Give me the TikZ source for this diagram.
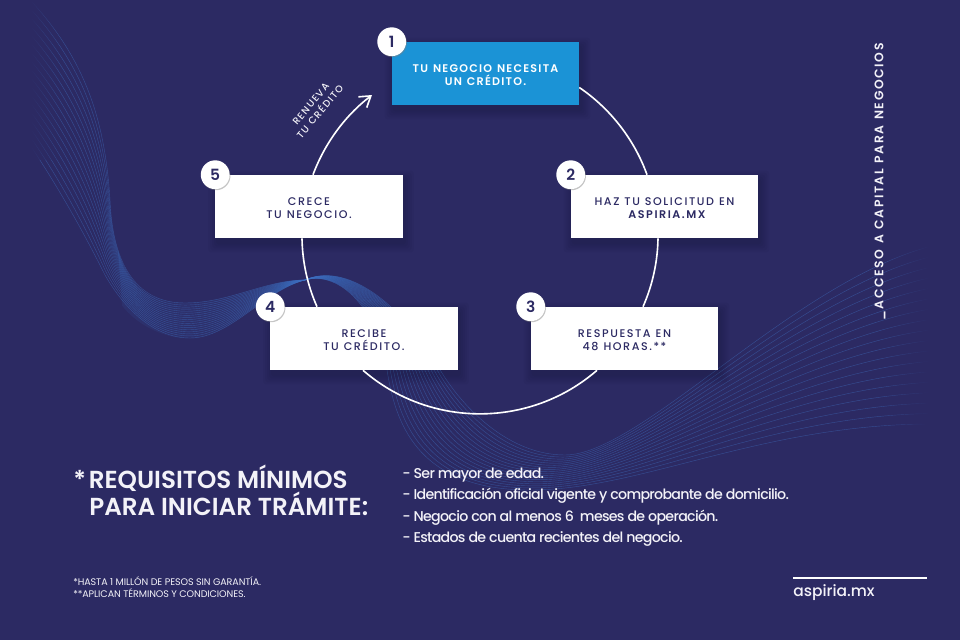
\documentclass[tikz,border=0pt]{standalone}
\usepackage{fontspec}
\setmainfont{Poppins}
\newfontfamily\medfont{Poppins Medium}
\newfontfamily\semifont{Poppins SemiBold}
\usetikzlibrary{arrows.meta,backgrounds,calc,fadings,shadows}
\definecolor{navy}{HTML}{2C2A63}
\definecolor{sky}{HTML}{1B93D6}
\definecolor{wave}{HTML}{3F72C4}
\definecolor{paper}{HTML}{F3F2F8}
\newcommand{\capsfont}[1]{\addfontfeatures{LetterSpace=#1}\spaceskip=0.45em\relax}
\newcommand{\twolines}[2]{\raisebox{-1.4pt}[\height][\depth]{#1}\\\raisebox{-1.4pt}[\height][\depth]{#2}}
\tikzset{
  stepbox/.style={rectangle,minimum width=4.675cm,minimum height=1.575cm,inner sep=0pt,align=center},
  whitebox/.style={stepbox,fill=white,text=navy,font=\fontsize{7.9}{9.25}\selectfont\medfont\capsfont{14}},
  bluebox/.style={stepbox,fill=sky,text=white,font=\fontsize{7.9}{9.25}\selectfont\semifont\capsfont{11}},
  badge/.style={circle,fill=white,text=navy,minimum size=0.72cm,inner sep=0pt,
    font=\fontsize{11}{11}\selectfont\semifont,
    drop shadow={shadow xshift=0.6pt,shadow yshift=-0.8pt,opacity=0.45}},
  ring/.style={white,line width=1.15pt},
  wavefan/.style={wave,line width=0.3pt,opacity=0.5},
  wavefill/.style={wave,line width=0.4pt,opacity=0.11},
  plain/.style={text=paper,inner sep=0pt,align=left},
}
\begin{document}
\begin{tikzpicture}[x=0.025cm,y=-0.025cm]
% boxes
\node[bluebox] (box1) at (485.5,73.5) {\twolines{TU NEGOCIO NECESITA}{UN CRÉDITO.}};
\node[whitebox] (box2) at (664.5,206.5) {\twolines{HAZ TU SOLICITUD EN}{\semifont\capsfont{14} ASPIRIA.MX}};
\node[whitebox] (box3) at (624.5,338.5) {\twolines{RESPUESTA EN}{48 HORAS.**}};
\node[whitebox] (box4) at (364,338.5) {\twolines{RECIBE}{TU CRÉDITO.}};
\node[whitebox] (box5) at (309,206.5) {\twolines{CRECE}{TU NEGOCIO.}};
\coordinate (renew) at (372,95);
%
\begin{scope}[on background layer]
\fill[navy] (0,0) rectangle (960,640);
% wave, upper and lower edge of the fan
\foreach \i in {0,...,17} {
  \pgfmathsetmacro{\t}{\i/17}
  \draw[wavefan] ($(32,2)!\t!(32,148)$)
    .. controls ($(85,60)!\t!(60,190)$) and ($(105,120)!\t!(85,235)$) .. ($(110,200)!\t!(105,275)$)
    .. controls ($(113,270)!\t!(125,310)$) and ($(140,303)!\t!(155,338)$) .. ($(185,303)!\t!(190,338)$)
    .. controls ($(230,303)!\t!(230,338)$) and ($(265,280)!\t!(265,290)$) .. (305,280)
    .. controls ($(340,270)!\t!(345,262)$) and ($(378,310)!\t!(400,300)$) .. ($(387,370)!\t!(442,373)$)
    .. controls ($(395,420)!\t!(465,410)$) and ($(415,490)!\t!(510,455)$) .. ($(530,490)!\t!(565,455)$)
    .. controls ($(640,490)!\t!(640,455)$) and ($(760,425)!\t!(790,285)$) .. ($(928,424)!\t!(928,247)$);
}
% the dense part of the wave
\foreach \i in {0,...,44} {
  \pgfmathsetmacro{\t}{\i/44}
  \draw[wavefill] ($(118,250)!\t!(122,305)$)
    .. controls ($(125,285)!\t!(135,322)$) and ($(150,303)!\t!(160,338)$) .. ($(185,303)!\t!(190,338)$)
    .. controls ($(230,303)!\t!(230,338)$) and ($(265,280)!\t!(265,290)$) .. (305,280)
    .. controls ($(340,270)!\t!(345,262)$) and ($(378,310)!\t!(400,300)$) .. ($(387,370)!\t!(442,373)$);
}
\fill[navy,path fading=east] (30,0) rectangle (60,160);
\fill[navy,path fading=west] (880,240) rectangle (930,430);
% soft shadows
\foreach \b in {box1,box2,box3,box4,box5}
  \foreach \s in {9,7,5,3,1}
    \fill[black,opacity=0.028,rounded corners=2pt] ($(\b.north west)+(2-\s,5-\s)$) rectangle ($(\b.south east)+(2+\s,5+\s)$);
% ring
\draw[ring] ($(box1.east)+(0,14)$) to[bend left=18,looseness=0.87] ($(box2.north)+(-17.5,0)$);
\draw[ring] ($(box2.south)+(-6.5,0)$) to[bend left=11.5,looseness=0.86] ($(box3.north)+(18.5,0)$);
\draw[ring] ($(box3.south)+(-27.5,0)$) to[bend left=41,looseness=0.97] ($(box4.south)+(-1,0)$);
\draw[ring] ($(box4.north)+(-47,0)$) to[bend left=11.5,looseness=0.86] ($(box5.south)+(-7,0)$);
\draw[ring,-{Straight Barb[length=2.6mm,width=3.4mm]}] ($(box5.north)+(4,0)$) to[bend left=16,looseness=0.87] (renew);
\end{scope}
% badges
\node[badge] (num1) at (box1.north west) {1};
\node[badge] (num2) at (box2.north west) {2};
\node[badge] (num3) at (box3.north west) {3};
\node[badge] (num4) at (box4.north west) {4};
\node[badge] (num5) at (box5.north west) {5};
%
\node[plain,align=center,rotate=50,font=\fontsize{6.9}{8.6}\selectfont\medfont\capsfont{13}] (renewlabel) at (315.5,108) {RENUEVA\\TU CRÉDITO};
\node[plain,rotate=90,font=\fontsize{8.8}{9}\selectfont\semifont\capsfont{13}] (tagline) at (880,182) {\_ACCESO A CAPITAL PARA NEGOCIOS};
%
\node[plain,anchor=west,font=\fontsize{17.5}{19.2}\selectfont\semifont] (title) at (73,490.5) {*\kern2pt REQUISITOS MÍNIMOS\\\hspace*{11.4pt}PARA INICIAR TRÁMITE:};
\node[plain,anchor=west,font=\fontsize{10.1}{15.2}\selectfont\medfont\addfontfeatures{LetterSpace=-5}] (reqs) at (402,507)
  {- Ser mayor de edad.\\- Identificación oficial vigente y comprobante de domicilio.\\- Negocio con al menos 6\ \ meses de operación.\\- Estados de cuenta recientes del negocio.};
\node[plain,anchor=west,font=\fontsize{6.8}{8.5}\selectfont\addfontfeatures{LetterSpace=-1}] (notes) at (73,587) {*HASTA 1 MILLÓN DE PESOS SIN GARANTÍA.\\**APLICAN TÉRMINOS Y CONDICIONES.};
\node[plain,anchor=base west,font=\fontsize{11}{12}\selectfont\medfont] (site) at (793,596) {aspiria.mx};
\coordinate (ruleleft) at (793,578);
\coordinate (ruleright) at (927,578);
\draw[white,line width=0.8pt] (ruleleft) -- (ruleright);
\end{tikzpicture}
\end{document}
